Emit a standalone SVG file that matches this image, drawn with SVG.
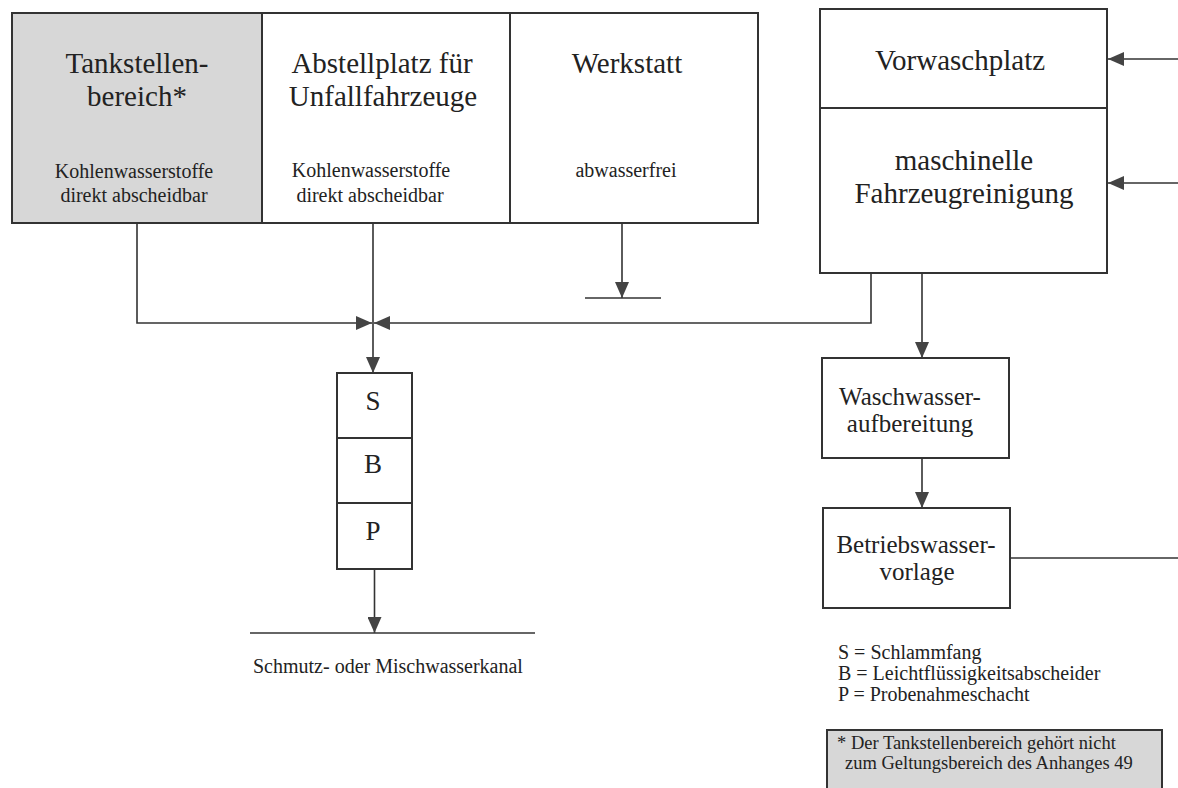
<svg xmlns="http://www.w3.org/2000/svg" width="1178" height="788" viewBox="0 0 1178 788">
<style>
  .box { fill: #ffffff; stroke: #333333; stroke-width: 2; }
  .gray { fill: #d7d7d7; }
  .ln { fill: none; stroke: #333333; stroke-width: 1.6; }
  .t { font-family: "Liberation Serif", "Times New Roman", serif; fill: #222222; }
  .h { font-size: 29px; text-anchor: middle; }
  .m { font-size: 25px; text-anchor: middle; }
  .s { font-size: 20px; text-anchor: middle; }
  .l { font-size: 20px; }
  .n { font-size: 18.5px; }
  .c { font-size: 27px; text-anchor: middle; }
</style>
<defs>
  <marker id="arr" viewBox="0 0 16 14" refX="16" refY="7" markerWidth="16" markerHeight="14" markerUnits="userSpaceOnUse" orient="auto">
    <path d="M0,0 L16,7 L0,14 Z" fill="#444444"/>
  </marker>
</defs>

<g id="tankstellenbereich">
  <rect class="box gray" x="12" y="13" width="250" height="210"/>
  <text class="t h" x="137" y="73">Tankstellen-</text>
  <text class="t h" x="137" y="106">bereich*</text>
  <text class="t s" x="134" y="178">Kohlenwasserstoffe</text>
  <text class="t s" x="134" y="202">direkt abscheidbar</text>
</g>

<g id="abstellplatz">
  <rect class="box" x="262" y="13" width="248" height="210"/>
  <text class="t h" x="382" y="73">Abstellplatz für</text>
  <text class="t h" x="383" y="106">Unfallfahrzeuge</text>
  <text class="t s" x="371" y="177">Kohlenwasserstoffe</text>
  <text class="t s" x="370" y="202">direkt abscheidbar</text>
</g>

<g id="werkstatt">
  <rect class="box" x="510" y="13" width="248" height="210"/>
  <text class="t h" x="627" y="73">Werkstatt</text>
  <text class="t s" x="626" y="177">abwasserfrei</text>
</g>

<g id="vorwaschplatz">
  <rect class="box" x="820" y="9" width="287" height="99"/>
  <text class="t h" x="960" y="70">Vorwaschplatz</text>
</g>

<g id="fahrzeugreinigung">
  <rect class="box" x="820" y="108" width="287" height="165"/>
  <text class="t h" x="964" y="170">maschinelle</text>
  <text class="t h" x="964" y="203">Fahrzeugreinigung</text>
</g>

<g id="waschwasseraufbereitung">
  <rect class="box" x="822" y="358" width="187" height="100"/>
  <text class="t m" x="910" y="405">Waschwasser-</text>
  <text class="t m" x="910" y="432">aufbereitung</text>
</g>

<g id="betriebswasservorlage">
  <rect class="box" x="823" y="508" width="187" height="100"/>
  <text class="t m" x="916" y="553">Betriebswasser-</text>
  <text class="t m" x="917" y="580">vorlage</text>
</g>

<g id="schlammfang">
  <rect class="box" x="337" y="373" width="75" height="65"/>
  <text class="t c" x="373" y="410">S</text>
</g>
<g id="abscheider">
  <rect class="box" x="337" y="438" width="75" height="65"/>
  <text class="t c" x="373" y="473">B</text>
</g>
<g id="probenahmeschacht">
  <rect class="box" x="337" y="503" width="75" height="66"/>
  <text class="t c" x="373" y="540">P</text>
</g>

<g id="kanal">
  <line class="ln" x1="250" y1="633" x2="535" y2="633"/>
  <text class="t l" x="253" y="673">Schmutz- oder Mischwasserkanal</text>
</g>

<g id="werkstatt-ablauf">
  <line class="ln" x1="585" y1="298" x2="661" y2="298"/>
</g>

<g id="legende">
  <text class="t l" x="838" y="659">S = Schlammfang</text>
  <text class="t l" x="838" y="680">B = Leichtflüssigkeitsabscheider</text>
  <text class="t l" x="838" y="701">P = Probenahmeschacht</text>
</g>

<g id="fussnote">
  <rect class="box gray" x="827" y="730" width="335" height="75" stroke-width="1.5"/>
  <text class="t n" x="837" y="749">* Der Tankstellenbereich gehört nicht</text>
  <text class="t n" x="845" y="769">zum Geltungsbereich des Anhanges 49</text>
</g>

<g id="connectors">
  <path class="ln" d="M137,223 V323 H372" marker-end="url(#arr)"/>
  <path class="ln" d="M871,273 V323 H374" marker-end="url(#arr)"/>
  <path class="ln" d="M373,223 V373" marker-end="url(#arr)"/>
  <path class="ln" d="M622,223 V298" marker-end="url(#arr)"/>
  <path class="ln" d="M374.5,569 V633" marker-end="url(#arr)"/>
  <path class="ln" d="M922,273 V358" marker-end="url(#arr)"/>
  <path class="ln" d="M922,458 V508" marker-end="url(#arr)"/>
  <path class="ln" d="M1010,558 H1178"/>
  <path class="ln" d="M1178,59 H1108" marker-end="url(#arr)"/>
  <path class="ln" d="M1178,183 H1108" marker-end="url(#arr)"/>
</g>
</svg>
